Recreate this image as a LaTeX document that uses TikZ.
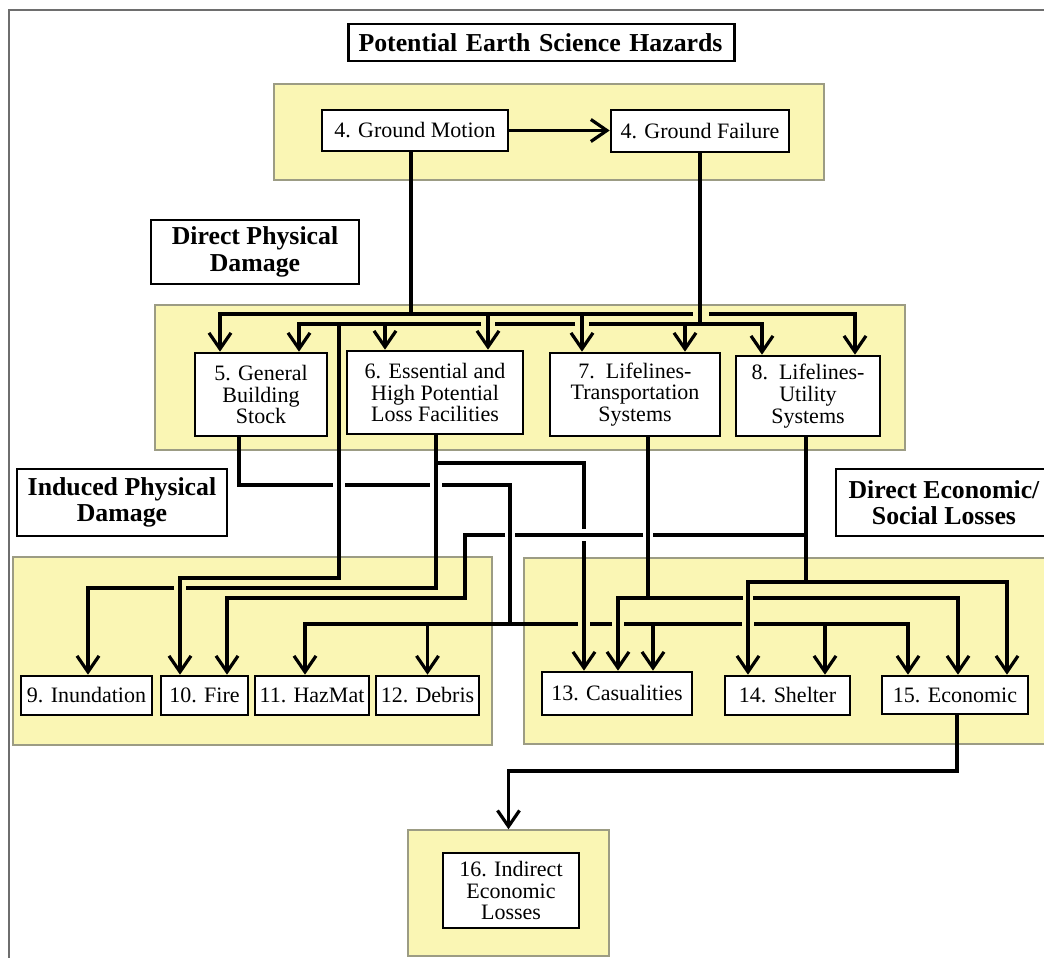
\documentclass[tikz,border=0pt]{standalone}
\usepackage{fontspec}
\setmainfont{Liberation Serif}
\usetikzlibrary{arrows.meta}
\definecolor{zonefill}{HTML}{FAF6B4}
\definecolor{zoneline}{HTML}{9C9C84}
\definecolor{framegray}{HTML}{6E6E6E}
\begin{document}
\begin{tikzpicture}[x=1pt,y=-1pt,
 nbox/.style={draw=black, line width=2.6pt, fill=white, inner sep=0pt, align=center, font=\fontsize{22}{21.7}\selectfont},
 hbox/.style={nbox, font=\bfseries\fontsize{25.8}{26.5}\selectfont},
 zone/.style={draw=zoneline, line width=1.5pt, fill=zonefill, inner sep=0pt},
 wire/.style={line width=3.2pt},
 arr/.style={wire, -{Straight Barb[length=16pt,width=22pt]}}]
\useasboundingbox (0,0) rectangle (1044,958);
\clip (0,0) rectangle (1044,958);
\fill[white] (0,0) rectangle (1044,958);
% frame
\draw[framegray, line width=2pt] (9,960) -- (9,10) -- (1050,10);
% zones
\node[zone, minimum width=550pt, minimum height=96pt] (Y1) at (549,132) {};
\node[zone, minimum width=750pt, minimum height=145pt] (Y2) at (530,377.5) {};
\node[zone, minimum width=479pt, minimum height=188pt] (Y3) at (252.5,651) {};
\node[zone, minimum width=536pt, minimum height=186pt] (Y4) at (792,651) {};
\node[zone, minimum width=201pt, minimum height=126pt] (Y5) at (508.5,893) {};
% headers
\node[hbox, minimum width=386pt, minimum height=37pt, text width=366pt, inner xsep=10pt, align=left] (title) at (541.5,42.5) {Potential Earth Science Hazards};
\node[hbox, minimum width=208pt, minimum height=64pt] (dpd) at (255,252) {Direct Physical\\Damage};
\node[hbox, minimum width=210pt, minimum height=67pt] (ipd) at (122,502.5) {Induced Physical\\Damage};
\node[hbox, minimum width=216pt, minimum height=67pt] (desl) at (944,502.5) {Direct Economic/\\Social Losses};
% boxes
\node[nbox, minimum width=186pt, minimum height=41pt] (gm) at (415,130.5) {4. Ground Motion};
\node[nbox, minimum width=178pt, minimum height=42pt] (gf) at (700,131) {4. Ground Failure};
\node[nbox, minimum width=132pt, minimum height=83pt] (b5) at (261,394.5) {5. General\\Building\\Stock};
\node[nbox, minimum width=176pt, minimum height=83pt] (b6) at (435,392.5) {6. Essential and\\High Potential\\Loss Facilities};
\node[nbox, minimum width=170pt, minimum height=83pt] (b7) at (635,394.5) {7.\ \ Lifelines-\\Transportation\\Systems};
\node[nbox, minimum width=144pt, minimum height=80pt] (b8) at (808,396) {8.\ \ Lifelines-\\Utility\\Systems};
\node[nbox, minimum width=131pt, minimum height=39pt] (b9) at (86.5,695.5) {9. Inundation};
\node[nbox, minimum width=87pt, minimum height=39pt] (b10) at (204.5,695.5) {10. Fire};
\node[nbox, minimum width=114pt, minimum height=39pt] (b11) at (312,695.5) {11. HazMat};
\node[nbox, minimum width=103pt, minimum height=39pt] (b12) at (427.5,695.5) {12. Debris};
\node[nbox, minimum width=150pt, minimum height=43pt] (b13) at (617,693.5) {13. Casualities};
\node[nbox, minimum width=125pt, minimum height=39pt] (b14) at (787.5,695.5) {14. Shelter};
\node[nbox, minimum width=146pt, minimum height=38pt] (b15) at (955,695) {15. Economic};
\node[nbox, minimum width=136pt, minimum height=75pt] (b16) at (511,890.5) {16. Indirect\\Economic\\Losses};
% junctions
\coordinate (bus1) at (411,314);
\coordinate (bus2) at (700,324);
% ground motion -> ground failure
\draw[arr] (gm.east) -- (gm.east -| gf.west);
% ground motion bus
\draw[wire] (gm.south -| bus1) -- (bus1);
\draw[arr] (bus1) -| ([xshift=-41pt]b5.north);
\draw[wire] (bus1) -- (693,314);
\draw[arr] (709,314) -| ([xshift=47pt]b8.north);
\draw[arr] (488,314) -- ([xshift=53pt]b6.north);
\draw[arr] (582,314) -- ([xshift=-53pt]b7.north);
% ground failure bus
\draw[wire] (gf.south) -- (bus2);
\draw[arr] (bus2) -| ([xshift=-46pt]b8.north);
\draw[arr] (bus2) -| ([xshift=50pt]b7.north);
\draw[wire] (685,324) -- (589,324);
\draw[wire] (575,324) -- (495,324);
\draw[arr] (481,324) -| ([xshift=38pt]b5.north);
\draw[arr] (385,324) -- ([xshift=-50pt]b6.north);
\draw[arr] (339,324) -- (339,578) -| ([xshift=-24.5pt]b10.north);
% building stock
\draw[wire] ([xshift=-22pt]b5.south) -- (239,485) -- (333,485);
\draw[wire] (345,485) -- (430,485);
\draw[wire] (442,485) -- (510,485) -- (510,624);
\draw[arr] (510,624) -| ([xshift=-7pt]b11.north);
\draw[arr] (427.5,624) -- (b12.north);
\draw[wire] (510,624) -- (578,624);
\draw[wire] (590,624) -- (612,624);
\draw[wire] (624,624) -- (742,624);
\draw[arr] (754,624) -| ([xshift=-47pt]b15.north);
\draw[arr] (653,624) -- ([xshift=36pt]b13.north);
\draw[arr] (825,624) -- ([xshift=37.5pt]b14.north);
% essential facilities
\draw[wire] ([xshift=1pt]b6.south) -- (436,588) -- (186,588);
\draw[arr] (174,588) -| ([xshift=1.5pt]b9.north);
\draw[wire] (436,463) -- (584,463) -- (584,529);
\draw[arr] (584,541) -- ([xshift=-33pt]b13.north);
% transportation
\draw[arr] ([xshift=13pt]b7.south) -- (648,598) -| ([xshift=1pt]b13.north);
\draw[wire] (648,598) -- (743,598);
\draw[arr] (753,598) -| ([xshift=3pt]b15.north);
% utility
\draw[wire] ([xshift=-2pt]b8.south) -- (806,582);
\draw[arr] (806,582) -| ([xshift=-39.5pt]b14.north);
\draw[arr] (806,582) -| ([xshift=52pt]b15.north);
\draw[wire] (806,535) -- (653,535);
\draw[wire] (643,535) -- (515,535);
\draw[arr] (505,535) -- (465,535) -- (465,598) -| ([xshift=22.5pt]b10.north);
% economic -> indirect
\draw[arr] ([xshift=2pt]b15.south) -- (957,771) -| (Y5.north);
\end{tikzpicture}
\end{document}
